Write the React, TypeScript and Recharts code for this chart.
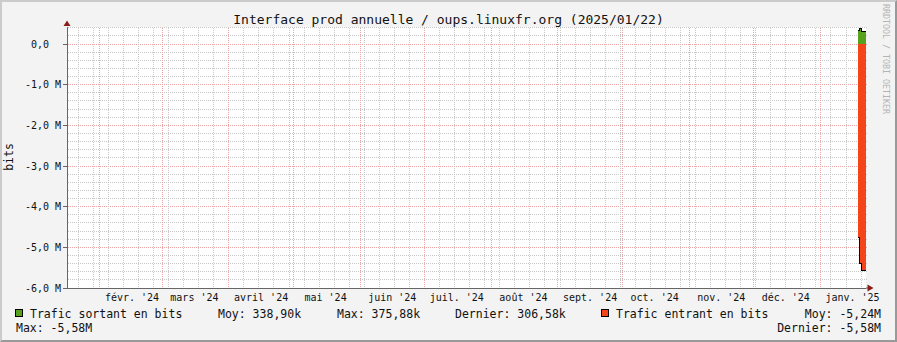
import { ComposedChart, Area, XAxis, YAxis, ReferenceDot, CartesianGrid } from "recharts";

const DAY = 86400000;
const startTime = Date.UTC(2024, 0, 16, 18);
const endTime = Date.UTC(2025, 0, 22, 7);

// daily averages (rrd yearly RRA), last value held until the end of the graph
const sampleTimes = [
  Date.UTC(2025, 0, 18, 10),
  Date.UTC(2025, 0, 19, 9),
  Date.UTC(2025, 0, 20, 8),
  endTime,
];
const outBits = [334240, 375880, 306580, 306580];
const inBits = [-4750000, -5390000, -5580000, -5580000];

const monthLabels = [
  "févr. '24",
  "mars '24",
  "avril '24",
  "mai '24",
  "juin '24",
  "juil. '24",
  "août '24",
  "sept. '24",
  "oct. '24",
  "nov. '24",
  "déc. '24",
  "janv. '25",
];
const labelTimes = monthLabels.map((_, i) => Date.UTC(2024, 1 + i, 16));
const monthStarts = monthLabels.map((_, i) => Date.UTC(2024, 1 + i, 1));

const mondays: number[] = [];
for (let t = Date.UTC(2024, 0, 22); t < endTime; t += 7 * DAY) mondays.push(t);

const yMajor = [0, -1e6, -2e6, -3e6, -4e6, -5e6, -6e6];
const yLabels = ["0,0", "-1,0 M", "-2,0 M", "-3,0 M", "-4,0 M", "-5,0 M", "-6,0 M"];
const yMinor: number[] = [];
for (let i = 2; i >= -29; i--) if (i % 5 !== 0) yMinor.push(i * 200000);

const yTop = 420000;
const yBottom = -6e6;

const FONT = '"DejaVu Sans Mono", monospace';
const GREEN = "#56a11e";
const RED = "#f4441a";
const MINOR = "#c8c8c8";
const MAJOR = "#eba4a4";
const ARROW = "#8b1c1c";

const data = sampleTimes.map((t, i) => ({ t, out: outBits[i], inb: inBits[i] }));

// one grid: minor lines first, major (red) lines after so they sit on top
const hValues = [...yMinor, ...yMajor];
const vValues = [...mondays, ...monthStarts];

// snap the library's grid coordinates onto whole pixels like rrdtool does
const px = (v: number) => Math.floor(v) + 0.5;
const gridLine = (minorCount: number) => (p: any) => (
  <line
    key={p.key}
    x1={px(p.x1)}
    y1={px(p.y1)}
    x2={px(p.x2)}
    y2={px(p.y2)}
    fill="none"
    stroke={p.index >= minorCount ? MAJOR : MINOR}
    strokeWidth={1}
    strokeDasharray="1 1"
    shapeRendering="crispEdges"
  />
);

const YTick = ({ x, y, payload }: any) => {
  const i = yMajor.indexOf(payload.value);
  return (
    <text
      x={payload.value === 0 ? x - 12 : x}
      y={y}
      dy="0.35em"
      textAnchor="end"
      fontSize={10}
      fontFamily={FONT}
      fill="#111"
    >
      {yLabels[i]}
    </text>
  );
};

const XTick = ({ x, y, payload }: any) => {
  const i = labelTimes.indexOf(payload.value);
  return (
    <text x={x} y={y + 13} textAnchor="middle" fontSize={10} fontFamily={FONT} fill="#111">
      {monthLabels[i]}
    </text>
  );
};

const legendRow = (top: number): React.CSSProperties => ({
  position: "absolute",
  top,
  height: 14,
  lineHeight: "14px",
  fontSize: 11.5,
  whiteSpace: "pre",
  color: "#111",
});

const box = (left: number, color: string): React.CSSProperties => ({
  position: "absolute",
  left,
  top: 309,
  width: 8,
  height: 8,
  boxSizing: "border-box",
  border: "1px solid #000",
  background: color,
});

export default function App() {
  return (
    <div style={{ position: "absolute", left: 0, top: 0, width: 897, height: 342, fontFamily: FONT }}>
      <div
        style={{
          position: "absolute",
          inset: 0,
          boxSizing: "border-box",
          background: "#f3f3f3",
          borderStyle: "solid",
          borderWidth: 2,
          borderColor: "#cbcbcb #999 #999 #cbcbcb",
        }}
      />
      {/* white canvas behind the plot area */}
      <div style={{ position: "absolute", left: 67, top: 27, width: 799, height: 261, background: "#fff" }} />
      <div
        style={{
          position: "absolute",
          left: 0,
          top: 11.5,
          width: 897,
          textAlign: "center",
          fontSize: 13,
          lineHeight: "16px",
          color: "#111",
        }}
      >
        Interface prod annuelle / oups.linuxfr.org (2025/01/22)
      </div>
      <div
        style={{
          position: "absolute",
          left: 9 - 20,
          top: 157 - 7,
          width: 40,
          height: 14,
          lineHeight: "14px",
          fontSize: 11.5,
          textAlign: "center",
          transform: "rotate(-90deg)",
          color: "#111",
        }}
      >
        bits
      </div>
      <div
        style={{
          position: "absolute",
          left: 886 - 60,
          top: 59 - 5,
          width: 120,
          height: 10,
          lineHeight: "10px",
          fontSize: 8.3,
          textAlign: "center",
          transform: "rotate(90deg)",
          color: "#b4b4b4",
          whiteSpace: "pre",
        }}
      >
        RRDTOOL / TOBI OETIKER
      </div>

      <div style={{ position: "absolute", left: 0, top: 0 }}>
        <ComposedChart
          width={897}
          height={342}
          data={data}
          margin={{ top: 27, right: 31, bottom: 24, left: 0 }}
        >
          <CartesianGrid
            fill="none"
            stroke={MINOR}
            horizontalValues={hValues}
            verticalValues={vValues}
            horizontal={gridLine(yMinor.length)}
            vertical={gridLine(mondays.length)}
          />
          <XAxis
            dataKey="t"
            type="number"
            domain={[startTime, endTime]}
            allowDataOverflow
            ticks={labelTimes}
            interval={0}
            tick={XTick}
            tickLine={false}
            tickSize={0}
            tickMargin={0}
            height={30}
            axisLine={{ stroke: "#666", shapeRendering: "crispEdges" }}
          />
          <YAxis
            type="number"
            domain={[yBottom, yTop]}
            allowDataOverflow
            ticks={yMajor}
            interval={0}
            tick={YTick}
            tickSize={4}
            tickMargin={2}
            width={67}
            axisLine={{ stroke: "#666", shapeRendering: "crispEdges" }}
            tickLine={{ stroke: "#666", shapeRendering: "crispEdges" }}
          />
          <Area
            dataKey="out"
            type="stepAfter"
            baseValue={0}
            fill={GREEN}
            fillOpacity={1}
            stroke="#000"
            strokeWidth={1}
            shapeRendering="crispEdges"
            dot={false}
            activeDot={false}
            isAnimationActive={false}
          />
          <Area
            dataKey="inb"
            type="stepAfter"
            baseValue={0}
            fill={RED}
            fillOpacity={1}
            stroke="#000"
            strokeWidth={1}
            shapeRendering="crispEdges"
            dot={false}
            activeDot={false}
            isAnimationActive={false}
          />
          <ReferenceDot
            x={startTime}
            y={yTop}
            ifOverflow="visible"
            shape={({ cx, cy }: any) => (
              <polygon
                points={`${cx - 3.5},${cy - 1} ${cx + 3.5},${cy - 1} ${cx},${cy - 6.5}`}
                fill={ARROW}
              />
            )}
          />
          <ReferenceDot
            x={endTime}
            y={yBottom}
            ifOverflow="visible"
            shape={({ cx, cy }: any) => (
              <g>
                <line x1={cx} y1={cy} x2={cx + 2} y2={cy} stroke="#666" />
                <polygon
                  points={`${cx + 1.5},${cy - 3.5} ${cx + 1.5},${cy + 3.5} ${cx + 7.5},${cy}`}
                  fill={ARROW}
                />
              </g>
            )}
          />
        </ComposedChart>
      </div>

      <div style={box(15, GREEN)} />
      <div style={{ ...legendRow(307.3), left: 30 }}>Trafic sortant en bits</div>
      <div style={{ ...legendRow(307.3), left: 218 }}>Moy: 338,90k</div>
      <div style={{ ...legendRow(307.3), left: 337 }}>Max: 375,88k</div>
      <div style={{ ...legendRow(307.3), left: 455 }}>Dernier: 306,58k</div>
      <div style={box(601, RED)} />
      <div style={{ ...legendRow(307.3), left: 616 }}>Trafic entrant en bits</div>
      <div style={{ ...legendRow(307.3), right: 897 - 881, textAlign: "right" }}>Moy: -5,24M</div>
      <div style={{ ...legendRow(320.7), left: 16 }}>Max: -5,58M</div>
      <div style={{ ...legendRow(320.7), right: 897 - 881, textAlign: "right" }}>Dernier: -5,58M</div>
    </div>
  );
}
